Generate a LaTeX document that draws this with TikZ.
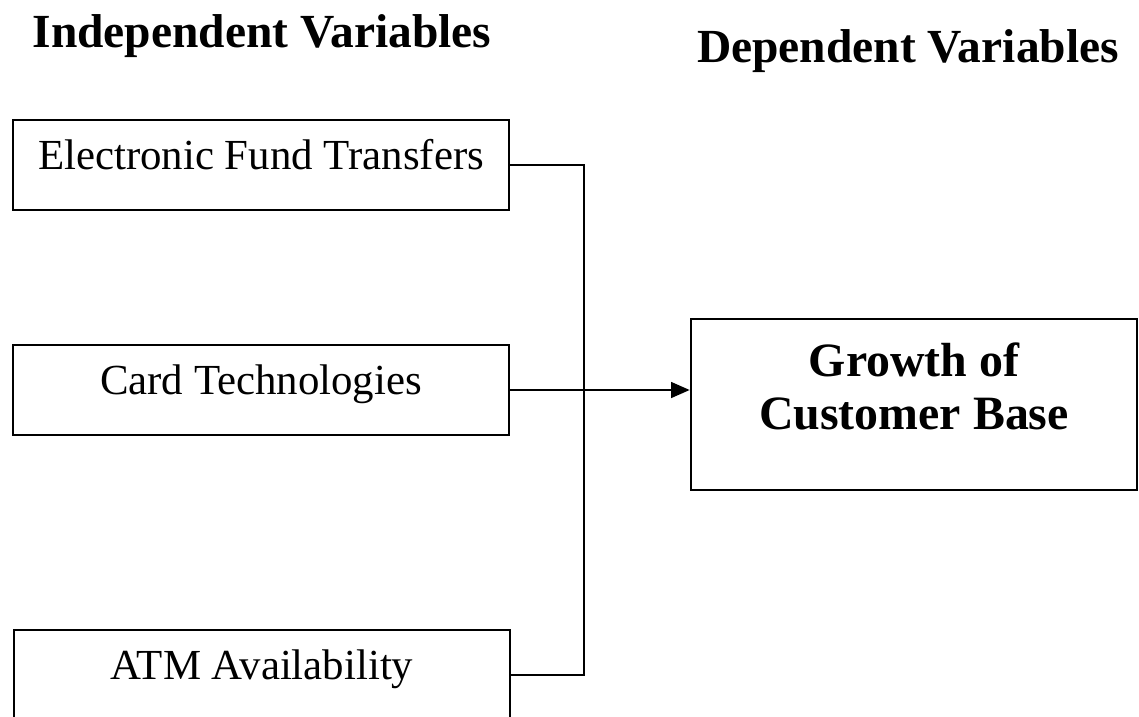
\documentclass[tikz,border=0pt]{standalone}
\usepackage{fontspec}
\setmainfont{Liberation Serif}
\usetikzlibrary{arrows.meta}
\begin{document}
\begin{tikzpicture}[
		x=0.28pt,y=-0.28pt,
		>={Triangle[length=5.2pt,width=4.4pt]},
		line width=0.6pt,
		heading/.style={anchor=base,font=\fontsize{13.3}{16}\selectfont\bfseries},
		ivbox/.style={draw,line width=0.75pt,anchor=base,inner sep=0,minimum width=138.9pt,text height=13.72pt,text depth=11.48pt,font=\fontsize{12}{14}\selectfont},
		dvbox/.style={draw,line width=0.7pt,anchor=base,inner sep=0,minimum width=124.9pt,align=center,text height=30.8pt,text depth=17.08pt,font=\fontsize{13.4}{14.8}\selectfont\bfseries}
	]
	\path[use as bounding box,clip] (0,0) rectangle (1139,717);

	\node [heading] (indep) at (262,47) {Independent Variables};
	\node [heading] (dep) at (908,62) {Dependent Variables};

	\node [ivbox] (eft) at (261,169) {Electronic Fund Transfers};
	\node [ivbox] (card) at (261,394) {Card Technologies};
	\node [ivbox] (atm) at (262,679) {ATM Availability};

	\node [dvbox] (growth) at (914,429) {Growth of\\Customer Base};

	\coordinate (bus) at (584,0);
	\draw (eft.east) -- (eft.east -| bus) -- (atm.east -| bus) -- (atm.east);
	\draw [->] (card.east) -- (card.east -| growth.west);

\end{tikzpicture}
\end{document}
